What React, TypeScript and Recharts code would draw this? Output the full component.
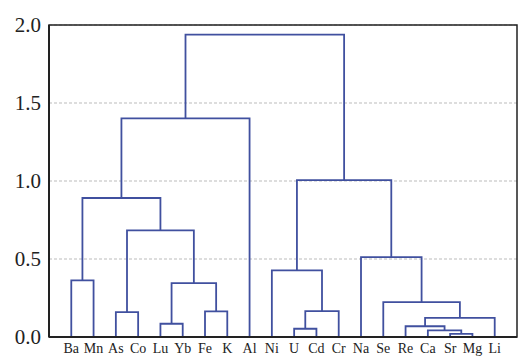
import { ComposedChart, Line, XAxis, YAxis, CartesianGrid, ReferenceArea } from "recharts";

// leaf order along the x axis
const leaves = ["Ba", "Mn", "As", "Co", "Lu", "Yb", "Fe", "K", "Al", "Ni", "U", "Cd", "Cr", "Na", "Se", "Re", "Ca", "Sr", "Mg", "Li"];

// merges: indices < 20 are leaves, 20+k is the cluster made by merge k
const mergePairs: [number, number][] = [
  [0, 1], [2, 3], [4, 5], [6, 7], [22, 23], [21, 24], [20, 25], [26, 8],
  [10, 11], [28, 12], [9, 29],
  [17, 18], [16, 31], [15, 32], [33, 19], [14, 34], [13, 35], [30, 36],
  [27, 37],
];
const mergeHeights = [
  0.363, 0.159, 0.085, 0.164, 0.345, 0.684, 0.891, 1.401,
  0.053, 0.166, 0.427,
  0.02, 0.042, 0.069, 0.123, 0.223, 0.512, 1.005,
  1.938,
];

const yTicks = [0, 0.5, 1, 1.5, 2];

const nodeX: number[] = leaves.map((_, i) => i + 1);
const nodeH: number[] = leaves.map(() => 0);
const links = mergePairs.map(([a, b], k) => {
  const h = mergeHeights[k];
  nodeX.push((nodeX[a] + nodeX[b]) / 2);
  nodeH.push(h);
  return [
    { x: nodeX[a], y: nodeH[a] },
    { x: nodeX[a], y: h },
    { x: nodeX[b], y: h },
    { x: nodeX[b], y: nodeH[b] },
  ];
});

const blue = "#40509f";
const serif = "Liberation Serif, Times New Roman, DejaVu Serif, serif";

const renderTick = (size: number, fmt: (v: number) => string, anchor: string, dy: string) => (props: any) => {
  const { x, y, payload } = props;
  return (
    <text x={x} y={y} dy={dy} textAnchor={anchor} fill="#222" fontSize={size} style={{ fontFamily: serif }}>
      {fmt(payload.value)}
    </text>
  );
};

export default function App() {
  return (
    <div style={{ position: "absolute", left: 0, top: 0, background: "#fff" }}>
      <ComposedChart width={532} height={364} margin={{ top: 25, right: 15, bottom: 0, left: 0 }}>
        <CartesianGrid vertical={false} stroke="#bbb" strokeDasharray="3 2" />
        <XAxis
          dataKey="x"
          type="number"
          domain={[0, 21]}
          ticks={leaves.map((_, i) => i + 1)}
          interval={0}
          tickLine={false}
          tickSize={4}
          height={27}
          axisLine={{ stroke: "#222", strokeWidth: 2 }}
          tick={renderTick(14, (v) => leaves[v - 1], "middle", "0.71em")}
        />
        <YAxis
          type="number"
          domain={[0, 2]}
          ticks={yTicks}
          width={49}
          tickLine={false}
          axisLine={{ stroke: "#222", strokeWidth: 2 }}
          tick={renderTick(21, (v) => v.toFixed(1), "end", "0.355em")}
        />
        <ReferenceArea x1={0} x2={21} y1={0} y2={2} fill="none" stroke="#222" strokeWidth={1.5} />
        {links.map((d, i) => (
          <Line
            key={i}
            data={d}
            dataKey="y"
            type="linear"
            stroke={blue}
            strokeWidth={1.8}
            dot={false}
            activeDot={false}
            isAnimationActive={false}
          />
        ))}
      </ComposedChart>
    </div>
  );
}
